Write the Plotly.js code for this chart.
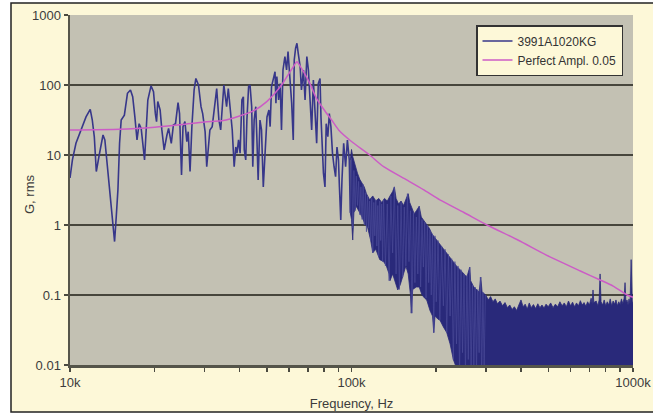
<!DOCTYPE html>
<html>
<head>
<meta charset="utf-8">
<script src="https://cdn.plot.ly/plotly-3.0.1.min.js"></script>
<style>html,body{margin:0;padding:0;background:#fff;}#chart{width:653px;height:414px;}</style>
</head>
<body>
<div id="chart"></div>
<script>
// Measured series 3991A1020KG, sparse part (frequency in kHz, G rms)
const sparseFreq = [10.0,10.2,10.5,10.9,11.4,11.8,12.0,12.2,12.4,12.7,13.1,13.3,13.6,14.0,14.2,14.4,14.6,14.8,15.0,15.2,15.6,16.0,16.4,16.7,17.0,17.3,17.6,17.9,18.4,18.6,18.9,19.4,19.8,20.1,20.3,20.5,20.9,21.2,21.6,22.1,22.4,22.9,23.3,23.7,24.2,24.5,24.9,25.2,25.6,26.0,26.3,26.7,27.1,27.6,28.0,28.6,29.2,29.6,30.2,30.6,
31.4,32.0,33.2,33.8,34.3,35.2,35.5,36.0,36.5,37.1,37.7,38.3,38.8,39.2,39.7,40.2,40.8,41.3,41.6,42.1,42.5,43.1,43.6,44.2,44.6,45.1,45.7,46.1,46.6,47.3,47.9,48.6,49.3,50.1,50.9,51.4,52.0,52.8,53.5,53.9,54.3,55.1,55.8,56.4,57.1,58.0,58.8,59.5,60.6,61.3,62.1,62.6,63.3,64.0,64.7,65.7,66.4,67.5,68.4,69.4,70.3,71.2,72.2,73.2,74.2,75.2,76.2,77.3,77.9,78.7,79.5,80.5,81.3,82.4,83.4,84.5,85.6,86.7,87.8,88.8,89.9,90.6,91.6,92.5,93.8,95.3,96.7,98.2,99.0];
const sparseG = [4.7,8.5,14.7,21.5,35,45,31.6,18.2,5.8,10,19.3,16.4,6.8,1.83,1.06,0.58,1.32,3.2,14.7,31.6,37,76,85,68,35,16.4,28,24,8.5,22.8,61,97,80,39,30,58,44,22.8,11.8,19.3,24,14.7,26.8,28,56,39,5.2,25.4,30,15.5,21.5,5.8,25.4,85,124,100,49,39,21.5,6.8,
22.8,25.4,89,31.6,22.8,100,80,49,89,39,22.8,6.8,13,10.6,16.4,10.6,61,68,11.8,8.5,31.6,95,100,49,6.8,31.6,49,18.3,4.4,31.6,22.8,3.5,13,35,44,25.4,95,118,155,55,132,61,105,22.8,164,255,164,300,118,55,16.4,228,335,395,280,183,85,164,61,255,164,68,22.8,118,44,14.7,105,124,35,14.7,5.5,3.5,28,18.3,39,25.4,10.6,6.8,4.9,13,8.5,3.5,1.18,4.4,14.7,6.8,16.4,8.5,1.5];

// Measured series, dense part: upper and lower edge of the band (kHz, G rms)
const upperFreq = [99,100,101,103,105,107,109,111,113,116,119,122,125,128,131,134,137,140,142,144,147,150,153,156,159,161,164,167,170,174,177,181,185,189,193,196,200,206,212,218,224,230,236,243,250,257,263,265,272,279,284,288,291,
300,306,312,318,324,330,337,344,351,358,365,372,379,386,393,400,407,414,421,428,435,443,451,459,467,475,483,491,500,510,520,530,540,550,560,570,580,590,600,610,620,630,640,650,660,670,680,690,700,710,716,721,726,740,750,758,764,770,780,790,800,810,820,830,840,850,860,870,880,890,900,910,920,930,937,944,952,960,968,976,985,990,995,1000];
const upperG = [8.5,12,9.5,7,5.5,4.5,4,3.5,2.8,2.3,2.6,2.2,2.4,2.1,2.4,2.2,2.6,3.0,3.5,2.4,2.0,2.2,1.9,2.3,2.8,2.1,1.7,1.45,1.6,1.85,1.3,1.15,1.05,0.9,0.75,0.69,0.62,0.53,0.46,0.4,0.34,0.29,0.26,0.23,0.2,0.18,0.25,0.16,0.13,0.12,0.11,0.18,0.11,
0.1,0.085,0.095,0.08,0.088,0.075,0.082,0.07,0.078,0.066,0.072,0.062,0.068,0.06,0.072,0.085,0.068,0.074,0.063,0.077,0.066,0.073,0.064,0.075,0.066,0.072,0.065,0.074,0.068,0.077,0.066,0.074,0.068,0.08,0.07,0.077,0.068,0.082,0.07,0.079,0.068,0.077,0.07,0.083,0.072,0.078,0.069,0.08,0.072,0.09,0.075,0.118,0.078,0.082,0.07,0.085,0.2,0.08,0.072,0.085,0.07,0.08,0.072,0.088,0.07,0.082,0.074,0.085,0.07,0.08,0.073,0.088,0.075,0.09,0.15,0.078,0.085,0.072,0.088,0.075,0.32,0.08,0.07,0.08];
const lowerFreq = [99,100,101,102,104,107,109,112,114,117,119,122,126,130,133,136,137,140,143,146,149,152,156,159,162,163,165,170,174,178,182,185,190,194,196,198,203,206,212,218,224,230,236,245,1000];
const lowerG = [1.5,1.2,0.61,1.5,1.85,1.5,1.3,1.0,0.94,0.6,0.4,0.45,0.32,0.3,0.26,0.2,0.16,0.2,0.15,0.118,0.14,0.18,0.26,0.2,0.1,0.055,0.12,0.13,0.13,0.1,0.09,0.085,0.06,0.05,0.029,0.05,0.045,0.044,0.035,0.029,0.02,0.012,0.009,0.006,0.006];

// Measured series, dense part: individual strokes inside the band (kHz, G rms)
const strokeFreq = [100,101,102,103,104,105,106,107,108,109,110,111,112,113,114,115,116,117,118,119,120,121,122,123,124,125,126,127,128,129,130,
132,134,136,138,140,142,144,146,148,150,152,154,156,158,160,162,164,166,168,170,172,174,176,178,180,182,184,186,188,190,192,194,196,198,200,
203,206,209,212,215,218,221,224,227,230,233,236,239,242,245,248,251,254,257,260,263,266,269,272,275,278,281,284,287,290,293,296,299];
const strokeG = [9,0.9,6,1.6,5,1.9,4.2,1.4,3.5,1.2,3.8,1.0,2.9,0.8,2.6,0.9,2.2,0.6,2.4,0.4,2.1,0.7,2.3,0.5,1.9,0.35,2.2,0.6,2.0,0.3,2.3,
0.26,2.0,0.16,2.6,0.4,3.5,0.2,1.9,0.12,2.1,0.18,1.8,0.26,2.8,0.3,1.6,0.055,1.5,0.15,1.3,0.2,1.85,0.13,1.2,0.25,1.1,0.09,1.0,0.15,0.85,0.1,0.75,0.029,0.7,0.08,
0.6,0.044,0.5,0.07,0.45,0.029,0.38,0.05,0.33,0.012,0.3,0.02,0.26,0.008,0.23,0.015,0.2,0.008,0.19,0.012,0.25,0.007,0.14,0.01,0.13,0.008,0.12,0.015,0.18,0.007,0.11,0.01,0.1];

// Perfect amplifier, damping 0.05 (kHz, G rms)
const magFreq = [10,15,20,25,30,35,40,45,50,54,57,60,62,64,66,68,71,75,80,85,90,100,116,130,157,180,206,250,303,390,507,650,764,850,953,1000];
const magG = [22.7,23.3,25,27.3,29.6,31,36,43,58,80,106,147,180,215,180,148,107,65,44,31.6,22.8,15.6,10,6.8,4.4,3.2,2.28,1.52,1.0,0.61,0.35,0.22,0.164,0.134,0.1,0.093];

// Axis ticks
const xTickVals = [10,20,30,40,50,60,70,80,90,100,200,300,400,500,600,700,800,900,1000];
const xTickText = ['10k','','','','','','','','','100k','','','','','','','','','1000k'];
const yTickVals = [0.01,0.1,1,10,100,1000];
const yTickText = ['0.01','0.1','1','10','100','1000'];

const bandX = upperFreq.concat(lowerFreq.slice().reverse());
const bandY = upperG.concat(lowerG.slice().reverse());

const NAVY = '#29297a';
const traces = [
  {x: bandX, y: bandY, type: 'scatter', mode: 'lines', fill: 'toself', fillcolor: NAVY,
   line: {color: NAVY, width: 0.8}, showlegend: false, legendgroup: 'm', hoverinfo: 'skip'},
  {x: strokeFreq, y: strokeG, type: 'scatter', mode: 'lines', showlegend: false, legendgroup: 'm',
   line: {color: '#4a4a98', width: 0.7}},
  {x: sparseFreq, y: sparseG, type: 'scatter', mode: 'lines', name: '3991A1020KG', legendgroup: 'm',
   line: {color: '#37378a', width: 1.6}},
  {x: magFreq, y: magG, type: 'scatter', mode: 'lines', name: 'Perfect Ampl. 0.05',
   line: {color: '#cc5cc6', width: 1.5, shape: 'spline', smoothing: 0.6}}
];

const fnt = 'Liberation Sans, Arial, sans-serif';
const px2x = p => (p - 70) / 563;
const py2y = p => (365 - p) / 350;
const TXT = '#3c3c3c';

const layout = {
  width: 653, height: 414,
  margin: {l: 70, r: 20, t: 15, b: 49},
  paper_bgcolor: '#fdf8d8',
  plot_bgcolor: '#c3c1b3',
  font: {family: fnt, size: 13, color: TXT},
  showlegend: true,
  legend: {x: px2x(623), xanchor: 'right', y: py2y(25), yanchor: 'top',
           bgcolor: '#fdf8d8', bordercolor: '#333333', borderwidth: 1.5,
           font: {family: fnt, size: 12, color: '#333'}, tracegroupgap: 0},
  xaxis: {type: 'log', range: [1, 3], tickmode: 'array', tickvals: xTickVals, ticktext: xTickText,
          ticks: 'outside', ticklen: 4, tickwidth: 1.5, tickcolor: '#4a4a40',
          showgrid: false, zeroline: false, showline: true, linecolor: '#55554a', linewidth: 2.5,
          tickfont: {size: 13, color: TXT},
          title: {text: 'Frequency, Hz', font: {size: 13, color: TXT}, standoff: 10}},
  yaxis: {type: 'log', range: [-2, 3], tickmode: 'array', tickvals: yTickVals, ticktext: yTickText,
          ticks: 'outside', ticklen: 4, tickwidth: 1.5, tickcolor: '#4a4a40',
          showgrid: true, gridcolor: '#47463c', gridwidth: 2,
          zeroline: false, showline: true, linecolor: '#55554a', linewidth: 2.5,
          tickfont: {size: 13, color: TXT}},
  annotations: [
    {text: 'G, rms', xref: 'paper', yref: 'paper', x: px2x(30), y: py2y(195),
     xanchor: 'center', yanchor: 'middle', textangle: -90, showarrow: false,
     font: {family: fnt, size: 13, color: TXT}}
  ],
  shapes: [
    {type: 'rect', xref: 'paper', yref: 'paper', x0: -0.3, x1: px2x(11), y0: -0.3, y1: 1.3,
     fillcolor: '#ffffff', line: {width: 0}, layer: 'below'},
    {type: 'rect', xref: 'paper', yref: 'paper', x0: -0.3, x1: 1.3, y0: py2y(3), y1: 1.3,
     fillcolor: '#ffffff', line: {width: 0}, layer: 'below'},
    {type: 'rect', xref: 'paper', yref: 'paper', x0: -0.3, x1: 1.3, y0: -0.3, y1: py2y(412),
     fillcolor: '#ffffff', line: {width: 0}, layer: 'below'},
    {type: 'rect', xref: 'paper', yref: 'paper', x0: px2x(11), x1: px2x(670), y0: py2y(412), y1: py2y(3),
     line: {color: '#222222', width: 1.5}, layer: 'below'}
  ]
};

Plotly.newPlot('chart', traces, layout, {displayModeBar: false, staticPlot: true});
</script>
</body>
</html>
